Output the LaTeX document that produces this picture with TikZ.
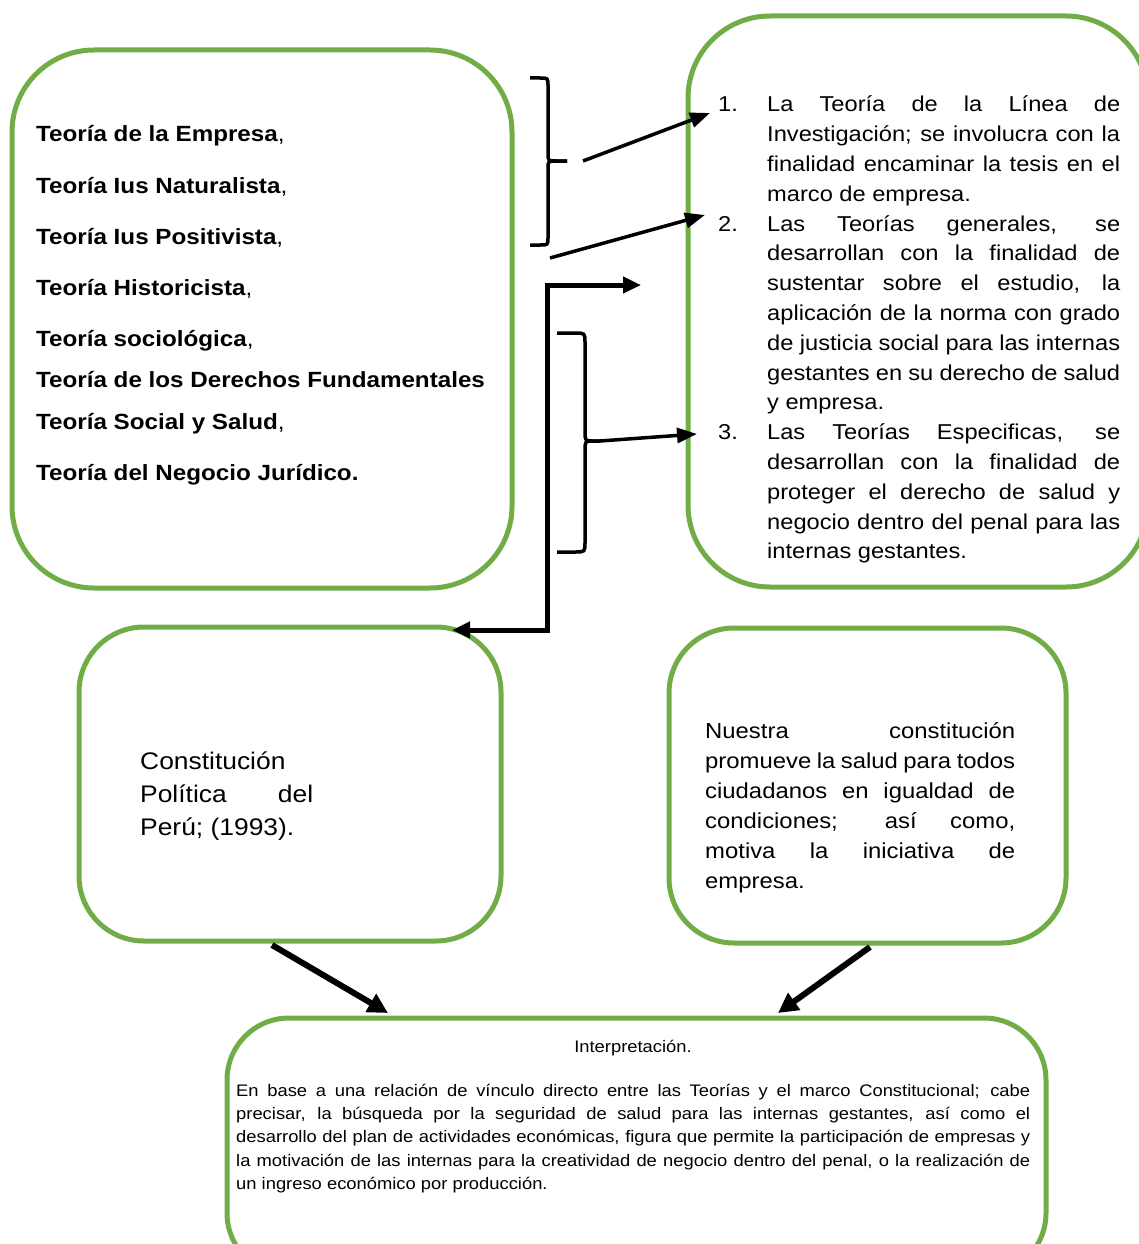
\documentclass[tikz,border=0pt]{standalone}
\usepackage{fontspec}
\setmainfont{Liberation Sans}[FakeStretch=1.1]
\usetikzlibrary{arrows.meta}
\definecolor{boxgreen}{HTML}{70AD47}
\newcommand{\J}[2]{\makebox[#1][s]{\strut #2}}
\newcommand{\Lf}[2]{\makebox[#1][l]{\strut #2}}
\newcommand{\In}{\hspace*{49pt}}
\begin{document}
\begin{tikzpicture}[x=1pt,y=-1pt,
  gbox/.style={draw=boxgreen, line width=5pt, rounded corners=#1, inner sep=0pt, outer sep=0pt, rectangle},
  theory/.style={anchor=base west, inner sep=0pt, font=\fontsize{22}{25}\selectfont},
  para/.style={anchor=north west, inner sep=0pt, align=left},
  brace/.style={draw=black, line width=3.5pt, line join=round},
  thinarrow/.style={draw=black, line width=3.5pt, -{Triangle[length=20pt,width=15pt]}},
  elbowarrow/.style={draw=black, line width=5pt, {Triangle[length=18pt,width=16pt]}-{Triangle[length=18pt,width=16pt]}},
  bigarrow/.style={draw=black, line width=6pt, -{Triangle[length=20pt,width=20pt]}}
]
\useasboundingbox (0,0) rectangle (1139,1244);

% boxes
\node[gbox=82pt, minimum width=500pt, minimum height=538pt] (theories) at (262,319) {};
\node[gbox=82pt, minimum width=460pt, minimum height=571pt] (list) at (918,301.5) {};
\node[gbox=65pt, minimum width=422pt, minimum height=314pt] (const) at (290,784) {};
\node[gbox=65pt, minimum width=397pt, minimum height=315pt] (nuestra) at (867.5,785.5) {};
\node[gbox=62pt, minimum width=819pt, minimum height=257pt] (interp) at (636.5,1146.5) {};

% left box text
\node[theory] (t1) at (36,141.5) {\textbf{Teoría de la Empresa},};
\node[theory] (t2) at (36,193.5) {\textbf{Teoría Ius Naturalista},};
\node[theory] (t3) at (36,244.5) {\textbf{Teoría Ius Positivista},};
\node[theory] (t4) at (36,295.5) {\textbf{Teoría Historicista},};
\node[theory] (t5) at (36,346.5) {\textbf{Teoría sociológica},};
\node[theory] (t6) at (36,387.5) {\textbf{Teoría de los Derechos Fundamentales}};
\node[theory] (t7) at (36,429.5) {\textbf{Teoría Social y Salud},};
\node[theory] (t8) at (36,480.5) {\textbf{Teoría del Negocio Jurídico.}};

% right box list
\node[para, font=\fontsize{21.5}{29.8}\selectfont] (listtext) at (718,90.8) {%
\makebox[49pt][l]{1.}\J{353pt}{La Teoría de la Línea de}\\
\In\J{353pt}{Investigación; se involucra con la}\\
\In\J{353pt}{finalidad encaminar la tesis en el}\\
\In\Lf{353pt}{marco de empresa.}\\
\makebox[49pt][l]{2.}\J{353pt}{Las Teorías generales, se}\\
\In\J{353pt}{desarrollan con la finalidad de}\\
\In\J{353pt}{sustentar sobre el estudio, la}\\
\In\J{353pt}{aplicación de la norma con grado}\\
\In\J{353pt}{de justicia social para las internas}\\
\In\J{353pt}{gestantes en su derecho de salud}\\
\In\Lf{353pt}{y empresa.}\\
\makebox[49pt][l]{3.}\J{353pt}{Las Teorías Especificas, se}\\
\In\J{353pt}{desarrollan con la finalidad de}\\
\In\J{353pt}{proteger el derecho de salud y}\\
\In\J{353pt}{negocio dentro del penal para las}\\
\In\Lf{353pt}{internas gestantes.}};

% middle left text
\node[para, font=\fontsize{24}{33}\selectfont] (consttext) at (140,746.4) {%
\Lf{173pt}{Constitución}\\
\J{173pt}{Política del}\\
\Lf{173pt}{Perú; (1993).}};

% middle right text
\node[para, font=\fontsize{21.7}{30}\selectfont] (nuestratext) at (705,717.5) {%
\J{310pt}{Nuestra constitución}\\
\J{310pt}{promueve la salud para todos}\\
\J{310pt}{ciudadanos en igualdad de}\\
\J{310pt}{condiciones; así como,}\\
\J{310pt}{motiva la iniciativa de}\\
\Lf{310pt}{empresa.}};

% bottom text
\node[anchor=base, inner sep=0pt, font=\fontsize{16.7}{23.3}\selectfont] (interptitle) at (633,1052) {Interpretación.};
\node[para, font=\fontsize{16.7}{23.3}\selectfont] (interptext) at (236,1079.7) {%
\J{794pt}{En base a una relación de vínculo directo entre las Teorías y el marco Constitucional; cabe}\\
\J{794pt}{precisar, la búsqueda por la seguridad de salud para las internas gestantes, así como el}\\
\J{794pt}{desarrollo del plan de actividades económicas, figura que permite la participación de empresas y}\\
\J{794pt}{la motivación de las internas para la creatividad de negocio dentro del penal, o la realización de}\\
\Lf{794pt}{un ingreso económico por producción.}};

% braces
\coordinate (b1tip) at (567,161);
\coordinate (b2tip) at (600,441);
\draw[brace] (530,78) -- (540,78) .. controls (548,78) .. (548,86) -- (548,153)
  .. controls (548,161) .. (556,161) -- (b1tip);
\draw[brace] (b1tip) -- (556,161) .. controls (548,161) .. (548,169) -- (548,237)
  .. controls (548,245) .. (540,245) -- (530,245);
\draw[brace] (557,333) -- (575,333) .. controls (585,333) .. (585,343) -- (585,431)
  .. controls (585,441) .. (593,441) -- (b2tip);
\draw[brace] (b2tip) -- (593,441) .. controls (585,441) .. (585,451) -- (585,542)
  .. controls (585,552) .. (575,552) -- (557,552);

% connectors
\coordinate (a1s) at (583,161);
\coordinate (a1e) at (710,113);
\coordinate (a2s) at (550,258);
\coordinate (a2e) at (705,215);
\coordinate (a3e) at (697,434);
\coordinate (elL) at (452,630);
\coordinate (elC1) at (547,630);
\coordinate (elC2) at (547,285);
\coordinate (elR) at (641,285);
\coordinate (d1s) at (272,945);
\coordinate (d1e) at (388,1013);
\coordinate (d2s) at (870,947);
\coordinate (d2e) at (778,1013);

\draw[thinarrow] (a1s) -- (a1e);
\draw[thinarrow] (a2s) -- (a2e);
\draw[thinarrow] (b2tip) -- (a3e);
\draw[elbowarrow] (elL) -- (elC1) -- (elC2) -- (elR);
\draw[bigarrow] (d1s) -- (d1e);
\draw[bigarrow] (d2s) -- (d2e);
\end{tikzpicture}
\end{document}
